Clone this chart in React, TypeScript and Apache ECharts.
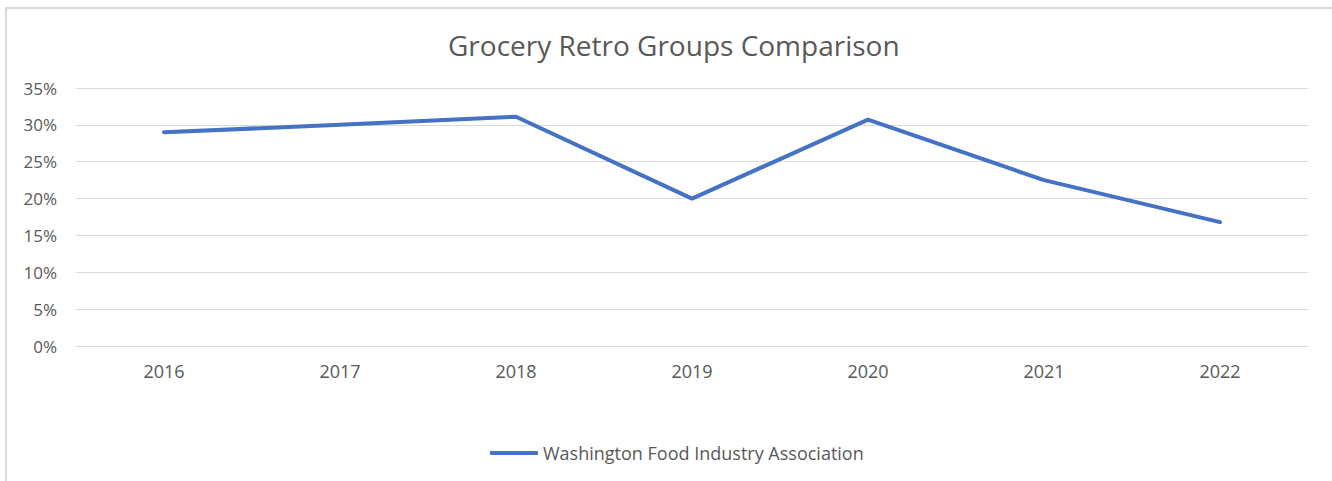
import React, { useEffect, useRef } from "react";
import * as echarts from "echarts";

const categories = ["2016", "2017", "2018", "2019", "2020", "2021", "2022"];
const seriesName = "Washington Food Industry Association";
const values = [29.0, 30.0, 31.1, 20.0, 30.7, 22.5, 16.8];
const titleText = "Grocery Retro Groups Comparison";

const FONT = "'Open Sans', 'Noto Sans', sans-serif";

export default function App() {
  const ref = useRef<HTMLDivElement>(null);
  useEffect(() => {
    if (!ref.current) return;
    const chart = echarts.init(ref.current, undefined, { renderer: "svg" });
    chart.setOption({
      animation: false,
      backgroundColor: "#ffffff",
      title: {
        text: titleText,
        left: 443,
        top: 26,
        textStyle: { fontFamily: FONT, fontSize: 28, fontWeight: "normal", color: "#595959" },
      },
      graphic: [
        {
          type: "rect",
          shape: { x: 6, y: 8, width: 1340, height: 500 },
          style: { fill: "none", stroke: "#d9d9d9", lineWidth: 2 },
          silent: true,
        },
      ],
      grid: { left: 76, right: 24, top: 88, bottom: 135 },
      legend: {
        bottom: 19,
        left: 490,
        padding: 0,
        icon: "roundRect",
        itemWidth: 48,
        itemHeight: 4,
        textStyle: { fontFamily: FONT, fontSize: 18, color: "#595959" },
        data: [seriesName],
      },
      xAxis: {
        type: "category",
        data: categories,
        boundaryGap: true,
        axisLine: { show: true, lineStyle: { color: "#d9d9d9", width: 1 } },
        axisTick: { show: false },
        axisLabel: { fontFamily: FONT, fontSize: 18, color: "#595959", margin: 16 },
      },
      yAxis: {
        type: "value",
        min: 0,
        max: 35,
        interval: 5,
        axisLine: { show: false },
        axisTick: { show: false },
        splitLine: { lineStyle: { color: "#d9d9d9", width: 1 } },
        axisLabel: {
          fontFamily: FONT,
          fontSize: 17,
          color: "#595959",
          margin: 19,
          formatter: (v: number) => `${v}%`,
        },
      },
      series: [
        {
          name: seriesName,
          type: "line",
          data: values,
          symbol: "none",
          itemStyle: { color: "#4472C4" },
          lineStyle: { color: "#4472C4", width: 4, cap: "round", join: "round" },
        },
      ],
    });
    return () => chart.dispose();
  }, []);
  return (
    <div
      ref={ref}
      style={{ position: "fixed", left: 0, top: 0, width: 1332, height: 481 }}
    />
  );
}
